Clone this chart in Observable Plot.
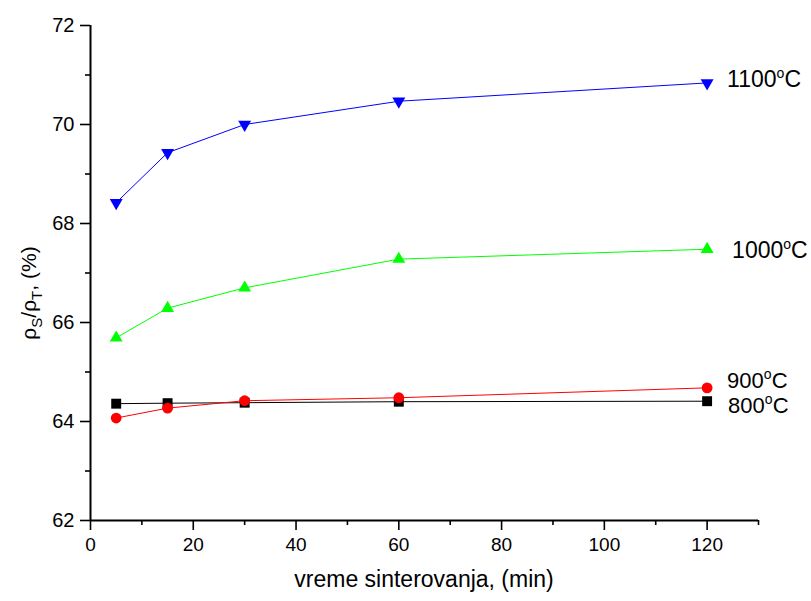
<!DOCTYPE html>
<html>
<head>
<meta charset="utf-8">
<script src="https://cdn.jsdelivr.net/npm/d3@7"></script>
<script src="https://cdn.jsdelivr.net/npm/@observablehq/plot@0.6"></script>
<style>
  html, body { margin: 0; padding: 0; background: #fff; }
  #chart svg { display: block; }
</style>
</head>
<body>
<div id="chart"></div>
<script>
// sintering time (min)
const times = [5, 15, 30, 60, 120];
// relative density rho_S / rho_T (%)
const series = ["800°C", "900°C", "1000°C", "1100°C"];
const values800  = [64.36, 64.37, 64.38, 64.40, 64.41];
const values900  = [64.07, 64.27, 64.42, 64.48, 64.68];
const values1000 = [65.69, 66.29, 66.70, 67.28, 67.48];
const values1100 = [68.42, 69.43, 70.00, 70.47, 70.84];
const xTicks = [0, 20, 40, 60, 80, 100, 120];
const xMinorTicks = [10, 30, 50, 70, 90, 110, 130];
const yTicks = [62, 64, 66, 68, 70, 72];
const yMinorTicks = [63, 65, 67, 69, 71];

const allValues = [values800, values900, values1000, values1100];
const data = [];
series.forEach((s, i) => times.forEach((t, j) => data.push({series: s, time: t, value: allValues[i][j]})));
const last = data.filter(d => d.time === times[times.length - 1]);

const colors = {"800°C": "#000000", "900°C": "#ff0000", "1000°C": "#00ff00", "1100°C": "#0000ff"};
const symbols = {"800°C": "square", "900°C": "circle", "1000°C": "triangle", "1100°C": "triangle"};
const rotations = {"800°C": 0, "900°C": 0, "1000°C": 0, "1100°C": 180};
const radii = {"800°C": 5.6, "900°C": 5.4, "1000°C": 4.8, "1100°C": 4.8};
const labelDx = {"800°C": 21, "900°C": 20, "1000°C": 25, "1100°C": 20};
const labelDy = {"800°C": 5, "900°C": -7, "1000°C": 1, "1100°C": -3};
const labelSize = {"800°C": 22, "900°C": 22, "1000°C": 23, "1100°C": 23};

const font = "'Liberation Sans', Arial, sans-serif";

const marks = [
  Plot.axisX({ticks: xTicks, tickSize: 10, tickPadding: 7, fontSize: 19, strokeWidth: 1.6, label: null}),
  Plot.axisX({ticks: xMinorTicks, tickSize: 5, tickFormat: () => "", strokeWidth: 1.6, label: null}),
  Plot.axisY({ticks: yTicks, tickSize: 10, tickPadding: 6, fontSize: 20, strokeWidth: 1.6, label: null}),
  Plot.axisY({ticks: yMinorTicks, tickSize: 5, tickFormat: () => "", strokeWidth: 1.6, label: null}),
  Plot.ruleX([0], {strokeWidth: 2}),
  Plot.ruleY([62], {strokeWidth: 2})
];
for (const s of series) {
  const d = data.filter(r => r.series === s);
  marks.push(Plot.line(d, {x: "time", y: "value", stroke: colors[s], strokeWidth: 1}));
  marks.push(Plot.dot(d, {x: "time", y: "value", fill: colors[s], stroke: "none",
    symbol: symbols[s], r: radii[s], rotate: rotations[s]}));
  marks.push(Plot.text(last.filter(r => r.series === s), {x: "time", y: "value", text: "series",
    textAnchor: "start", dx: labelDx[s], dy: labelDy[s], fontSize: labelSize[s], fill: "#000"}));
}

const chart = Plot.plot({
  width: 811,
  height: 601,
  marginLeft: 90,
  marginRight: 53,
  marginTop: 25,
  marginBottom: 81,
  style: {fontFamily: font, background: "#fff", color: "#000", overflow: "visible"},
  x: {domain: [0, 130]},
  y: {domain: [62, 72]},
  marks
});

const svg = d3.select(chart);
// superscript "o" in the temperature labels
svg.selectAll("text").each(function() {
  const t = d3.select(this);
  const txt = t.text();
  const m = /^(\d+)°C$/.exec(txt);
  if (m) {
    t.text(null);
    t.append("tspan").text(m[1]);
    t.append("tspan").attr("dy", "-9px").style("font-size", "14px").text("o");
    t.append("tspan").attr("dy", "9px").text("C");
  }
});

// axis titles
svg.append("text")
  .attr("x", (90 + 758) / 2).attr("y", 587)
  .attr("text-anchor", "middle").attr("font-size", 23).attr("font-family", font)
  .attr("fill", "#000")
  .text("vreme sinterovanja, (min)");

const yl = svg.append("text")
  .attr("transform", "translate(36,293) rotate(-90)")
  .attr("text-anchor", "middle").attr("font-size", 21).attr("font-family", font)
  .attr("fill", "#000");
yl.append("tspan").text("ρ");
yl.append("tspan").style("font-size", "15px").attr("dy", "6px").text("S");
yl.append("tspan").attr("dy", "-6px").text("/ρ");
yl.append("tspan").style("font-size", "15px").attr("dy", "6px").text("T");
yl.append("tspan").attr("dy", "-6px").text(", (%)");

document.getElementById("chart").appendChild(chart);
</script>
</body>
</html>
